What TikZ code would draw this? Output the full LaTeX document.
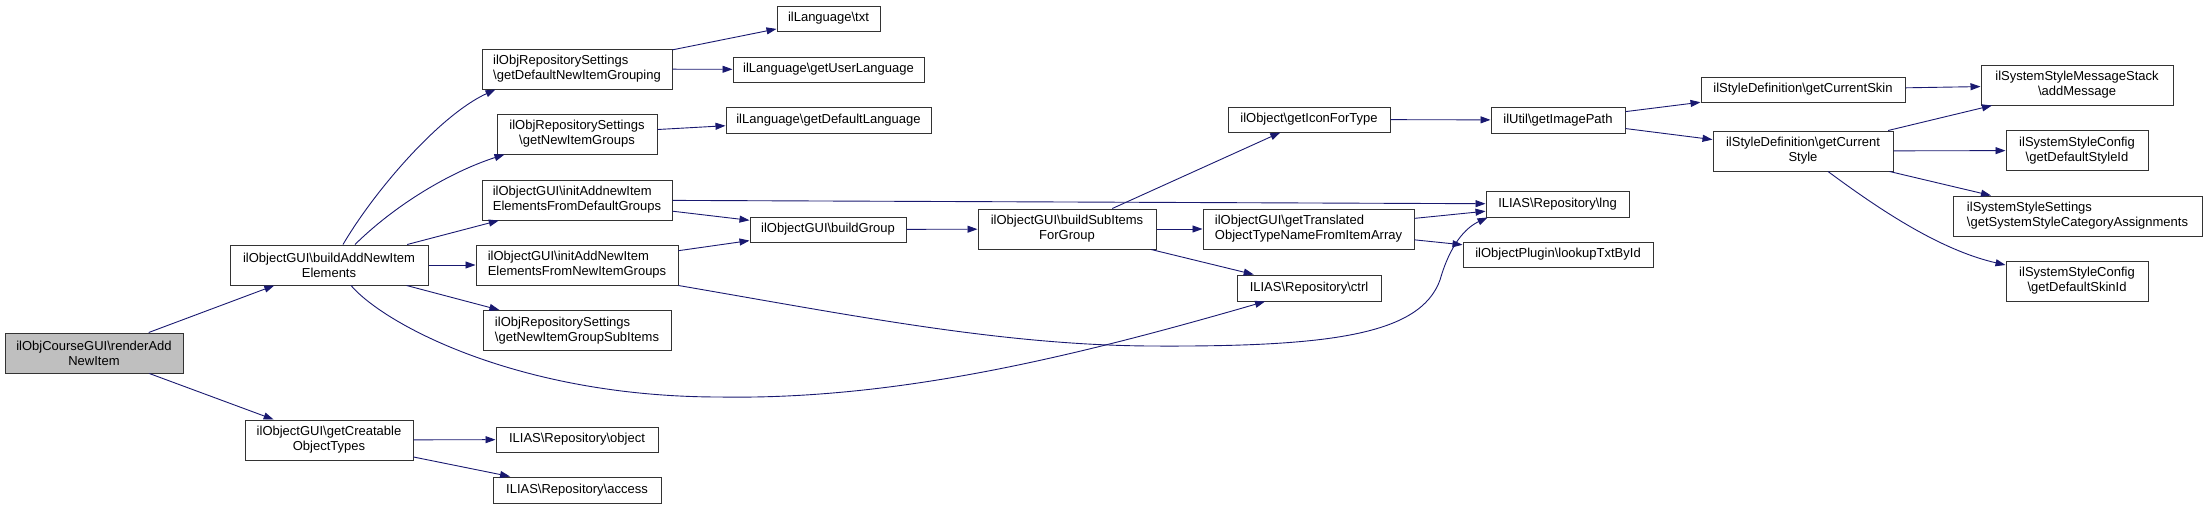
\documentclass[tikz,border=0pt]{standalone}
\usepackage{fontspec}
\setmainfont{Liberation Sans}
\usepackage{xcolor}
\usepackage{tikz}
\usetikzlibrary{calc, arrows.meta}

\definecolor{edgeblue}{HTML}{191970}
\definecolor{rootgray}{HTML}{BFBFBF}

\tikzset{
	fn/.style = {draw = black!80, line width = 1pt, fill = white, inner sep = 0pt, align = center,
		font = \fontsize{13}{15}\selectfont},
	fnl/.style = {fn, align = left},
	sz/.style 2 args = {minimum width = #1, minimum height = #2},
	call/.style = {draw = edgeblue, line width = 0.9pt, -{Triangle[length = 10pt, width = 7pt]}}
}

\newcommand{\bs}{\textbackslash}

\begin{document}
\begin{tikzpicture}[x = 1pt, y = -1pt]
		\useasboundingbox (0,0) rectangle (2207,509);

		\node [fn, sz = {178}{40}, fill = rootgray] (render) at (94,353) {ilObjCourseGUI\bs renderAdd\\NewItem};

		\node [fn, sz = {198}{40}] (buildadd) at (329,265) {ilObjectGUI\bs buildAddNewItem\\Elements};
		\node [fn, sz = {168}{40}] (creatable) at (329,440) {ilObjectGUI\bs getCreatable\\ObjectTypes};

		\node [fnl, sz = {190}{40}] (defgrouping) at (577,69) {ilObjRepositorySettings\\\bs getDefaultNewItemGrouping};
		\node [fn, sz = {160}{40}] (newgroups) at (577,134) {ilObjRepositorySettings\\\bs getNewItemGroups};
		\node [fnl, sz = {190}{40}] (initdef) at (577,200) {ilObjectGUI\bs initAddnewItem\\ElementsFromDefaultGroups};
		\node [fnl, sz = {202}{40}] (initnew) at (577,265) {ilObjectGUI\bs initAddNewItem\\ElementsFromNewItemGroups};
		\node [fnl, sz = {188}{40}] (subitems) at (577,330.5) {ilObjRepositorySettings\\\bs getNewItemGroupSubItems};
		\node [fn, sz = {162}{25}] (object) at (577,439.5) {ILIAS\bs Repository\bs object};
		\node [fn, sz = {168}{26}] (access) at (577,490) {ILIAS\bs Repository\bs access};

		\node [fn, sz = {103}{25}] (txt) at (828.5,18.5) {ilLanguage\bs txt};
		\node [fn, sz = {191}{25}] (userlang) at (828.5,69.5) {ilLanguage\bs getUserLanguage};
		\node [fn, sz = {205}{26}] (deflang) at (828.5,120) {ilLanguage\bs getDefaultLanguage};
		\node [fn, sz = {156}{25}] (buildgroup) at (828,229.5) {ilObjectGUI\bs buildGroup};

		\node [fn, sz = {178}{40}] (subgroup) at (1067,229) {ilObjectGUI\bs buildSubItems\\ForGroup};
		\node [fn, sz = {162}{25}] (icon) at (1309,119.5) {ilObject\bs getIconForType};
		\node [fnl, sz = {211}{40}] (translated) at (1308.5,229) {ilObjectGUI\bs getTranslated\\ObjectTypeNameFromItemArray};
		\node [fn, sz = {144}{26}] (ctrl) at (1309,288) {ILIAS\bs Repository\bs ctrl};

		\node [fn, sz = {134}{26}] (imagepath) at (1558,120) {ilUtil\bs getImagePath};
		\node [fn, sz = {143}{26}] (lng) at (1557.5,204) {ILIAS\bs Repository\bs lng};
		\node [fn, sz = {190}{25}] (lookup) at (1558,254.5) {ilObjectPlugin\bs lookupTxtById};

		\node [fn, sz = {204}{25}] (curskin) at (1803,89.5) {ilStyleDefinition\bs getCurrentSkin};
		\node [fn, sz = {180}{40}] (curstyle) at (1803,151) {ilStyleDefinition\bs getCurrent\\Style};

		\node [fn, sz = {192}{40}] (addmsg) at (2077,85) {ilSystemStyleMessageStack\\\bs addMessage};
		\node [fn, sz = {142}{40}] (styleid) at (2077,150.5) {ilSystemStyleConfig\\\bs getDefaultStyleId};
		\node [fnl, sz = {249}{40}] (catassign) at (2077.5,216) {ilSystemStyleSettings\\\bs getSystemStyleCategoryAssignments};
		\node [fn, sz = {142}{40}] (skinid) at (2077,281) {ilSystemStyleConfig\\\bs getDefaultSkinId};

		\draw [call] (render) -- (buildadd);
		\draw [call] (render) -- (creatable);

		\draw [call] ([xshift = 14]buildadd.north) .. controls (375,190) and (440,115) .. ([xshift = 14]defgrouping.south west);
		\draw [call] ([xshift = 26]buildadd.north) .. controls (395,205) and (450,172) .. ([xshift = 8]newgroups.south west);
		\draw [call] (buildadd) -- (initdef);
		\draw [call] (buildadd) -- (initnew);
		\draw [call] (buildadd) -- (subitems);
		\draw [call] ([xshift = 22]buildadd.south) .. controls (385,325) and (520,397) .. (720,397)
			.. controls (900,400) and (1080,355) .. ([xshift = -44]ctrl.south);

		\draw [call] (creatable) -- (object);
		\draw [call] (creatable) -- (access);

		\draw [call] (defgrouping) -- (txt);
		\draw [call] (defgrouping) -- (userlang);
		\draw [call] (newgroups) -- (deflang);

		\draw [call] (initdef) -- (lng);
		\draw [call] (initdef) -- (buildgroup);
		\draw [call] (initnew) -- (buildgroup);
		\draw [call] (initnew.south east) .. controls (850,315) and (1000,345) .. (1150,346)
			.. controls (1330,347) and (1420,335) .. (1440,280)
			.. controls (1450,245) and (1465,228) .. ([xshift = 2]lng.south west);

		\draw [call] (buildgroup) -- (subgroup);
		\draw [call] (subgroup) -- (icon);
		\draw [call] (subgroup) -- (translated);
		\draw [call] (subgroup) -- (ctrl);

		\draw [call] (translated) -- (lng);
		\draw [call] (translated) -- (lookup);

		\draw [call] (icon) -- (imagepath);
		\draw [call] (imagepath) -- (curskin);
		\draw [call] (imagepath) -- (curstyle);

		\draw [call] (curskin) -- (addmsg);
		\draw [call] (curstyle) -- (addmsg);
		\draw [call] (curstyle) -- (styleid);
		\draw [call] (curstyle) -- (catassign);
		\draw [call] ([xshift = 25]curstyle.south) .. controls (1880,210) and (1940,250) .. ([yshift = 16]skinid.west);
	\end{tikzpicture}
\end{document}
